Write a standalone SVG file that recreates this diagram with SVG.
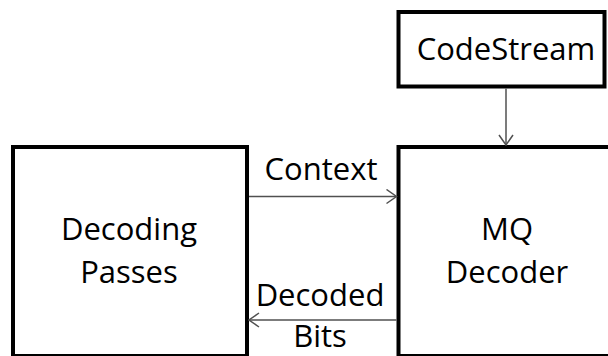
<svg xmlns="http://www.w3.org/2000/svg" width="608" height="356" viewBox="0 0 608 356">
  <defs>
    <style>
      .box { fill: #ffffff; stroke: #000000; stroke-width: 4; }
      .lbl { font-family: "Open Sans", "Liberation Sans", sans-serif; font-size: 31px; fill: #000000; text-anchor: middle; }
      .conn { stroke: #505050; stroke-width: 1.5; fill: none; }
    </style>
    <marker id="arr" viewBox="0 0 12 16" refX="11" refY="8" markerWidth="12" markerHeight="16" markerUnits="userSpaceOnUse" orient="auto">
      <path d="M1,1 L11,8 L1,15" fill="none" stroke="#505050" stroke-width="1.5"/>
    </marker>
  </defs>
  <rect width="608" height="356" fill="#ffffff"/>
  <g id="decoding-passes">
    <rect class="box" x="13" y="147" width="234" height="209"/>
    <text class="lbl" x="129" y="240">Decoding</text>
    <text class="lbl" x="129" y="283">Passes</text>
  </g>
  <g id="mq-decoder">
    <rect class="box" x="398.5" y="147" width="220" height="209"/>
    <text class="lbl" x="507" y="240">MQ</text>
    <text class="lbl" x="507" y="283">Decoder</text>
  </g>
  <g id="codestream">
    <rect class="box" x="398.5" y="12" width="206" height="74.5"/>
    <text class="lbl" x="506" y="60">CodeStream</text>
  </g>
  <g id="connectors">
    <line class="conn" x1="506" y1="88.5" x2="506" y2="145" marker-end="url(#arr)"/>
    <line class="conn" x1="249" y1="196.5" x2="396.5" y2="196.5" marker-end="url(#arr)"/>
    <line class="conn" x1="396.5" y1="320" x2="249" y2="320" marker-end="url(#arr)"/>
    <text class="lbl" x="321" y="180">Context</text>
    <text class="lbl" x="320" y="306">Decoded</text>
    <text class="lbl" x="320" y="347">Bits</text>
  </g>
</svg>
